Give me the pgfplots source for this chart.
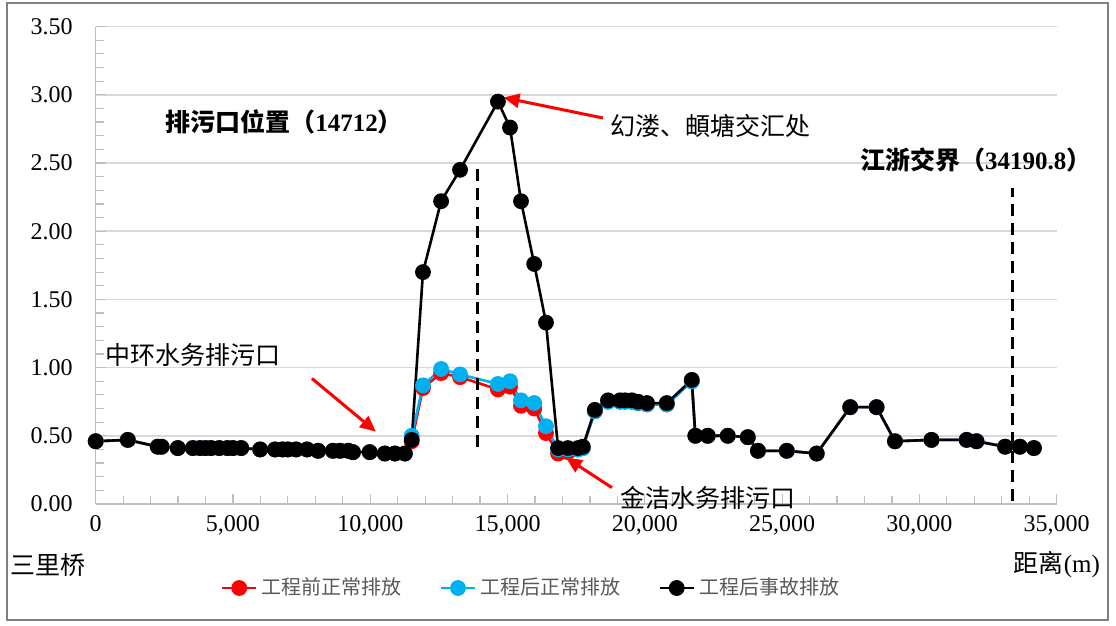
\documentclass[border=0pt]{standalone}
\usepackage{fontspec}
\setmainfont{Liberation Serif}
\newfontfamily\cjk{Noto Sans CJK SC}
\usepackage{pgfplots}
\pgfplotsset{compat=1.18}
\usepackage{pgfplotstable}
\usetikzlibrary{arrows.meta}

\definecolor{eRed}{HTML}{FF0000}
\definecolor{eBlue}{HTML}{00B0F0}
\definecolor{gridgray}{HTML}{D9D9D9}
\definecolor{axgray}{HTML}{BFBFBF}
\definecolor{txtgray}{HTML}{595959}

% distance(m)  before-normal  after-normal  after-accident
\pgfplotstableread{
x     red   blue  black
0     0.46  0.46  0.46
1170  0.47  0.47  0.47
2260  0.42  0.42  0.42
2400  0.42  0.42  0.42
2990  0.41  0.41  0.41
3540  0.41  0.41  0.41
3800  0.41  0.41  0.41
4000  0.41  0.41  0.41
4200  0.41  0.41  0.41
4500  0.41  0.41  0.41
4800  0.41  0.41  0.41
5000  0.41  0.41  0.41
5300  0.41  0.41  0.41
5990  0.40  0.40  0.40
6530  0.40  0.40  0.40
6800  0.40  0.40  0.40
7000  0.40  0.40  0.40
7300  0.40  0.40  0.40
7700  0.40  0.40  0.40
8100  0.39  0.39  0.39
8640  0.39  0.39  0.39
8900  0.39  0.39  0.39
9200  0.39  0.39  0.39
9370  0.38  0.38  0.38
9980  0.38  0.38  0.38
10530 0.37  0.37  0.37
10900 0.37  0.37  0.37
11260 0.37  0.37  0.37
11510 0.46  0.50  0.47
11920 0.85  0.87  1.70
12580 0.96  0.99  2.22
13270 0.93  0.95  2.45
14650 0.84  0.88  2.95
15090 0.86  0.90  2.76
15490 0.72  0.76  2.22
15970 0.70  0.74  1.76
16400 0.52  0.57  1.33
16840 0.37  0.40  0.41
17200 0.38  0.40  0.41
17560 0.40  0.40  0.41
17740 0.41  0.41  0.42
18180 0.68  0.68  0.69
18660 0.75  0.75  0.76
19100 0.75  0.75  0.76
19280 0.75  0.75  0.76
19530 0.75  0.75  0.76
19750 0.74  0.74  0.75
20080 0.73  0.73  0.74
20800 0.73  0.73  0.74
21710 0.90  0.90  0.91
21840 0.50  0.50  0.50
22290 0.50  0.50  0.50
23020 0.50  0.50  0.50
23750 0.49  0.49  0.49
24120 0.39  0.39  0.39
25170 0.39  0.39  0.39
26260 0.37  0.37  0.37
27480 0.71  0.71  0.71
28440 0.71  0.71  0.71
29110 0.46  0.46  0.46
30440 0.47  0.47  0.47
31720 0.47  0.47  0.47
32080 0.46  0.46  0.46
33120 0.42  0.42  0.42
33660 0.42  0.42  0.42
34170 0.41  0.41  0.41
}\conc

\begin{document}
\begin{tikzpicture}
\path[use as bounding box] (-47.85pt,-61pt) rectangle (510.15pt,252pt);
\begin{axis}[
  scale only axis, width=480.5pt, height=238.7pt,
  xmin=0, xmax=35000, ymin=0, ymax=3.5,
  xtick distance=5000, ytick distance=0.5,
  minor x tick num=4, minor y tick num=4,
  scaled x ticks=false,
  axis lines*=left,
  axis line style={draw=axgray, line width=0.8pt},
  ymajorgrids, major grid style={draw=gridgray, line width=0.8pt},
  tick style={draw=axgray, line width=0.6pt}, tick align=inside,
  major tick length=5pt, minor tick length=4pt,
  /pgf/number format/assume math mode=true,
  xticklabel style={font=\fontsize{12}{14}\selectfont, yshift=-2pt,
    /pgf/number format/.cd, 1000 sep={,}},
  yticklabel style={font=\fontsize{12}{14}\selectfont, xshift=-8pt,
    /pgf/number format/.cd, fixed, fixed zerofill, precision=2},
  clip=false,
  legend columns=3,
  legend style={at={(rel axis cs:0.454,-0.176)}, anchor=center, draw=none,
    font=\cjk\fontsize{10}{12}\selectfont, text=txtgray,
    /tikz/every even column/.append style={column sep=17pt}},
  legend cell align=left,
]
\addplot[eRed, line width=1.3pt, mark=*, mark size=3.3pt,
  mark options={fill=eRed, draw=eRed}] table[x=x, y=red] {\conc};
\addlegendentry{工程前正常排放}
\addplot[eBlue, line width=1.3pt, mark=*, mark size=3.3pt,
  mark options={fill=eBlue, draw=eBlue}] table[x=x, y=blue] {\conc};
\addlegendentry{工程后正常排放}
\addplot[black, line width=1.3pt, mark=*, mark size=3.3pt,
  mark options={fill=black, draw=black}] table[x=x, y=black] {\conc};
\addlegendentry{工程后事故排放}

% outfall and provincial border positions
\addplot[forget plot, black, line width=1.5pt, dash pattern=on 6pt off 3.5pt]
  coordinates {(13920,0.42) (13920,2.50)};
\addplot[forget plot, black, line width=1.5pt, dash pattern=on 6pt off 3.5pt]
  coordinates {(33400,0.02) (33400,2.32)};

% annotations
\node[anchor=west, font=\fontsize{12.5}{14}\selectfont, inner sep=0pt]
  at (axis cs:2524,2.80) {{\cjk\bfseries 排污口位置（}{\bfseries 14712}{\cjk\bfseries ）}};
\node[anchor=west, font=\cjk\fontsize{12.5}{14}\selectfont, inner sep=0pt]
  at (axis cs:18730,2.77) {幻溇、頔塘交汇处};
\node[anchor=west, font=\fontsize{12.5}{14}\selectfont, inner sep=0pt]
  at (axis cs:27830,2.52) {{\cjk\bfseries 江浙交界（}{\bfseries 34190.8}{\cjk\bfseries ）}};
\node[anchor=west, font=\cjk\fontsize{12.5}{14}\selectfont, inner sep=0pt]
  at (axis cs:340,1.09) {中环水务排污口};
\node[anchor=west, font=\cjk\fontsize{12.5}{14}\selectfont, inner sep=0pt]
  at (axis cs:19100,0.045) {金洁水务排污口};
\node[font=\cjk\fontsize{12.5}{14}\selectfont, inner sep=0pt]
  at (axis cs:-1740,-0.447) {三里桥};
\node[font=\fontsize{12.5}{14}\selectfont, inner sep=0pt]
  at (axis cs:35007,-0.447) {{\cjk 距离}(m)};

\draw[eRed, line width=1.5pt, -{Triangle[length=8pt, width=7pt]}]
  (axis cs:18474,2.83) -- (axis cs:14850,2.98);
\draw[eRed, line width=1.5pt, -{Triangle[length=8pt, width=7pt]}]
  (axis cs:7877,0.92) -- (axis cs:10207,0.53);
\draw[eRed, line width=1.5pt, -{Triangle[length=8pt, width=7pt]}]
  (axis cs:18802,0.12) -- (axis cs:17127,0.34);
\end{axis}
\draw[gray, line width=0.8pt] (-44.35pt,-58pt) rectangle (506.15pt,250.5pt);
\end{tikzpicture}
\end{document}
